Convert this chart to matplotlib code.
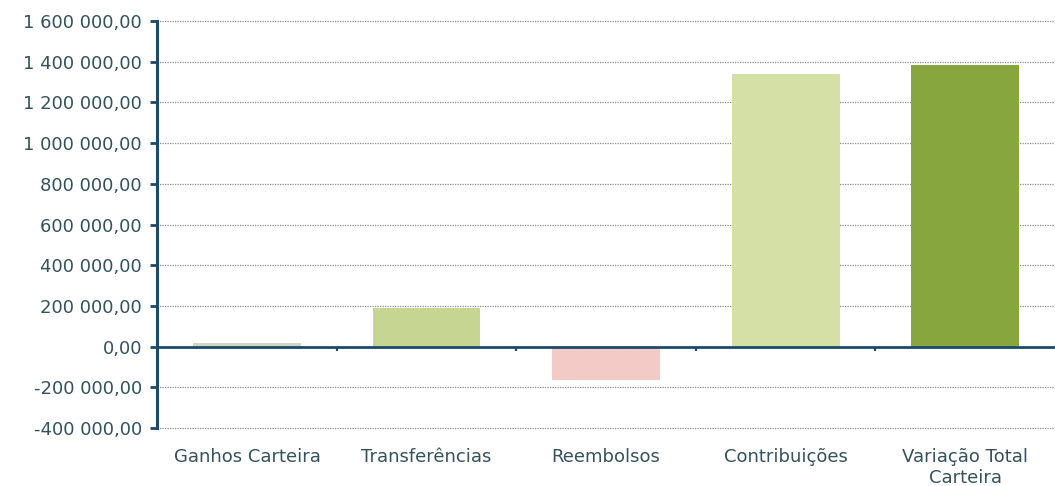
import numpy as np
import matplotlib
matplotlib.use("Agg")
import matplotlib.pyplot as plt
from matplotlib.ticker import FuncFormatter, MultipleLocator

categories = ["Ganhos Carteira", "Transferências", "Reembolsos", "Contribuições", "Variação Total\nCarteira"]
values = [18000, 190000, -165000, 1338000, 1381000]
colors = ["#cfd8c0", "#c7d592", "#f3cac6", "#d4e0a6", "#87a63e"]

AXIS = "#1d4a6b"
TEXT = "#34525c"


def fmt(v, pos):
    s = "{:,.2f}".format(v)
    return s.replace(",", " ").replace(".", ",")


fig = plt.figure(figsize=(10.55, 4.86), dpi=100)
ax = fig.add_axes([0.149, 0.119, 0.851, 0.838])

x = np.arange(len(categories))
ax.bar(x, values, width=0.6, color=colors, zorder=2)

ax.set_xlim(-0.5, len(categories) - 0.5)
ax.set_ylim(-400000, 1600000)
ax.yaxis.set_major_locator(MultipleLocator(200000))
ax.yaxis.set_major_formatter(FuncFormatter(fmt))
ax.grid(axis="y", color="#8c8c8c", linestyle=(0, (1, 1)), linewidth=0.9, zorder=0)
for gl in ax.get_ygridlines():
    gl.set_clip_on(False)

for s in ["top", "right", "bottom"]:
    ax.spines[s].set_visible(False)
ax.spines["left"].set_color(AXIS)
ax.spines["left"].set_linewidth(2.2)

# zero line with ticks between categories
ax.axhline(0, color=AXIS, linewidth=2, zorder=3)
ax.vlines(x[:-1] + 0.5, -20000, 0, color=AXIS, linewidth=1.6, zorder=3)

ax.tick_params(axis="y", colors=AXIS, length=5, width=2, labelsize=13, labelcolor=TEXT, pad=6)
ax.set_xticks(x)
ax.set_xticklabels(categories, fontsize=13, color=TEXT, linespacing=1.25, va="top")
ax.tick_params(axis="x", length=0, pad=14)

fig.savefig("out.png", dpi=100)
